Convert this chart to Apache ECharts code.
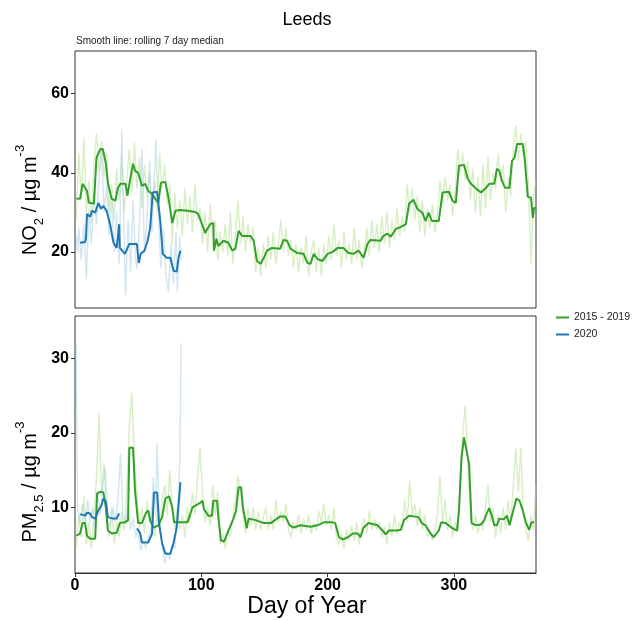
<!DOCTYPE html>
<html>
<head>
<meta charset="utf-8">
<script src="https://cdn.jsdelivr.net/npm/echarts@6/dist/echarts.min.js"></script>
<style>
html,body{margin:0;padding:0;background:#fff;}
#c{width:640px;height:620px;}
</style>
</head>
<body>
<div id="c"></div>
<script>
// ---------- DATA ----------
var xTicks = [0, 100, 200, 300];
var no2Ticks = [20, 40, 60];
var pmTicks = [10, 20, 30];
var legendNames = ['2015 - 2019', '2020'];

// NO2 daily (faint) 2015-2019
var no2Raw1519 = [[1,28],[3,45],[5,33],[7,49],[9,30],[11,38],[13,27],[15,42],[17,50],[19,40],[21,48],[23,39],[25,45],[27,30],[29,37],
[31,28],[33,41],[35,33],[37,44],[39,30],[41,38],[43,46],[45,35],[47,48],[49,36],[51,44],[53,31],[55,42],[57,34],[59,40],
[61,29],[63,38],[65,30],[67,45],[69,36],[71,42],[73,32],[75,37],[77,22],[79,35],[81,26],[83,33],[85,24],[87,36],[89,27],[91,34],[93,25],[95,37],[97,28],[99,31],
[101,22],[103,30],[105,20],[107,32],[109,24],[111,28],[113,18],[115,25],[117,20],[119,27],[121,19],[123,30],[125,17],[127,24],[129,33],
[131,22],[133,29],[135,20],[137,27],[139,22],[141,26],[143,15],[145,21],[147,14],[149,22],[151,16],[153,24],[155,18],[157,25],[159,17],[161,22],
[163,28],[165,20],[167,26],[169,19],[171,23],[173,16],[175,22],[177,15],[179,21],[181,17],[183,24],[185,14],[187,20],[189,23],[191,15],[193,21],[195,14],[197,22],[199,17],
[201,24],[203,18],[205,27],[207,19],[209,23],[211,16],[213,25],[215,18],[217,22],[219,17],[221,26],[223,18],[225,23],[227,16],[229,20],
[231,26],[233,19],[235,28],[237,21],[239,27],[241,20],[243,29],[245,22],[247,30],[249,21],[251,28],[253,23],[255,31],[257,24],[259,29],[261,25],
[263,37],[265,30],[267,36],[269,28],[271,34],[273,25],[275,33],[277,24],[279,31],[281,26],[283,32],[285,25],[287,30],[289,38],[291,32],[293,39],[295,33],[297,37],[299,29],[301,35],
[303,46],[305,40],[307,45],[309,38],[311,43],[313,33],[315,41],[317,30],[319,39],[321,29],[323,42],[325,31],[327,44],[329,33],[331,40],[333,36],
[335,45],[337,38],[339,42],[341,30],[343,39],[345,34],[347,46],[349,52],[351,43],[353,50],[355,44],[357,48],[359,37],[361,17],[363,34],[365,38]];

// NO2 daily (faint) 2020
var no2Raw2020 = [[1,24],[2,20],[3,26],[5,18],[7,27],[9,13],[11,31],[13,22],[15,35],[17,27],[19,38],[21,46],[23,30],[25,37],[27,24],[29,34],[31,20],[33,30],[35,17],[37,51],[39,22],[40,9],[42,28],[44,15],[46,33],[48,18],[49,15.6],[51,27],[53,46],[55,20],[57,28],[59,43],[61,25],[63,40],[64,48.6],[66,30],[68,16],[70,26],[72,14],[74,10],[76,22],[78,12],[80,25],[81,10],[83,24],[84,18]];

// NO2 rolling 7 day median 2015-2019
var no2Smooth1519 = [[1,33.5],[4,33.4],[6,37.2],[9.5,35.4],[11,32.4],[15,32.2],[17,43.8],[20,46],[22,46],[24.5,42.3],[26,37.5],[29,33.4],[32,33],[34,36.2],[36,37.2],[40,37.2],[41.5,34.2],[43.5,38],[46,42.3],[47.5,40.5],[50,40],[53,36.7],[55.5,37.2],[58,35.4],[61,34.7],[63.5,33.4],[66,32.4],[68,37.5],[71.5,37.7],[74,33.7],[77,27.3],[79.5,30.4],[83,30.6],[89,30.4],[95,30.1],[97.5,29.6],[100,27.5],[103,24.8],[107,27],[109.5,27.3],[110,20.3],[112,23.3],[113.5,21.5],[117.5,22.8],[121.5,22.3],[124.5,20.3],[127,20.8],[129.5,25.3],[132.5,24],[139,24],[141.5,22.8],[144,17.7],[147,17],[149.5,18.5],[152,20.3],[156,21],[162.5,20.8],[165,23],[168,22.8],[170.5,20.8],[176,19.7],[181,19.5],[184,17.2],[186.5,17],[189,19.5],[192,18.2],[196,17.7],[200,19.5],[204,20],[208,21],[212.5,21],[216.5,19.7],[220.5,19.5],[224.5,20.3],[228.5,18.5],[231.5,22],[234,23],[242,22.8],[244,24],[247.5,24.6],[250,23.8],[254,25.8],[258,26.3],[262,27],[264.5,32.2],[268,33.2],[271,30.9],[275,29.9],[277.5,27.8],[280,29.9],[282.5,27.8],[288,27.8],[291,35],[296,35.2],[299,32.9],[301.5,32.4],[304,41.8],[308,42],[311,38.5],[313.5,37.2],[317.5,36],[321.5,35],[325.5,36.2],[328,37.2],[332,37.2],[334,41],[336,40.5],[338,38],[340.5,36.2],[344,36.2],[346,43],[348,43.8],[350,47.3],[354.5,47.3],[356,43.8],[358.5,33.9],[361,33.7],[362.5,28.6],[363.5,31.1],[365,31.1]];

// NO2 rolling 7 day median 2020
var no2Smooth2020 = [[4,22.3],[8,22.5],[8.7,23.5],[9.5,29.6],[12,28.9],[13.5,30.4],[16,29.9],[18.5,32.4],[20.5,30.9],[22.5,31.6],[25,30.4],[27.8,27],[29,24.8],[30.5,22.3],[33,21],[34.5,21],[35,27],[35.5,21],[39.5,19.5],[43,22],[49,22],[50.5,17.2],[52,19.5],[55,20.3],[57.5,22.8],[59.5,26],[61.5,35],[65,35.2],[67.5,27.8],[69.5,19.5],[72.5,18.5],[75.5,18.5],[76.5,17.2],[78,15.2],[80.5,15],[82,18.5],[83.5,20.3]];

// PM2.5 daily (faint) 2015-2019
var pmRaw1519 = [[1,4.5],[3,9],[5,6],[7,11.5],[9,5],[11,8],[13,4.5],[15,9],[17,14],[19,22.7],[21,12],[23,16],[25,9],[27,6],[29,10],[31,5],[33,8],[35,6],[37,9.5],[39,7],[41,12],[43,21],[45,25.4],[47,16],[49,12],[51,7],[53,10],[55,6.5],[57,11],[59,8],
[61,10],[63,6],[65,9],[67,7],[69,11],[71,13],[73,9],[75,15],[77,10],[79,7],[81,10],[83,7],[85,9],[87,6],[89,10],[91,8],[93,12],[95,9],[97,14],[99,18],
[101,12],[103,8],[105,10],[107,7.5],[109,13],[111,9],[113,12],[115,5],[117,6.5],[119,4.5],[121,7],[123,6],[125,9],[127,11],[129,14.3],[131,12],[133,9],[135,6.5],[137,10],[139,7.5],
[141,10],[143,7],[145,9.5],[147,7],[149,8.5],[151,10],[153,7],[155,9],[157,7],[159,11],[161,8],[163,9.5],[165,8],[167,10.5],[169,7],[171,6],[173,8],[175,7],[177,9],[179,6.5],
[181,8.5],[183,7],[185,9],[187,6.5],[189,8],[191,7],[193,9.5],[195,8],[197,10.5],[199,7.5],[201,9],[203,7],[205,10],[207,6],[209,5],[211,6.5],[213,4.5],[215,7],[217,5.5],[219,7.5],
[221,5.5],[223,8],[225,5],[227,7.5],[229,8.5],[231,6.5],[233,9.5],[235,7],[237,8.5],[239,7],[241,8],[243,6],[245,7.5],[247,5],[249,8],[251,6],[253,9],[255,6.5],[257,8],[259,7],
[261,11],[263,8],[265,13.6],[267,9],[269,10.5],[271,7.5],[273,10],[275,7],[277,9],[279,6],[281,7],[283,5.5],[285,7],[287,9],[289,14.3],[291,8],[293,11],[295,7],[297,9],[299,6],
[301,8],[303,7],[305,12],[307,20],[309,23.7],[311,16],[313,9],[315,7],[317,9],[319,6.5],[321,8],[323,7],[325,10],[327,13],[329,8],[331,10],[333,6],[335,9],[337,6.5],[339,10],
[341,7],[343,11],[345,8],[347,13],[349,17.9],[351,12],[353,18],[355,9],[357,7],[359,5.5],[361,9],[363,7],[365,13]];

// PM2.5 daily (faint) 2020
var pmRaw2020 = [[1,32],[2,10],[4,8],[6,10.5],[8,7.5],[10,11],[12,8],[14,10],[16,7],[18,12],[20,9],[22,13],[24,15.2],[26,8],[28,7.5],[30,10],[32,8],[34,11],[36,17.2],[38,9],[40,8],[42,10],[44,7],[46,8.5],[48,6],[50,7],[52,4.2],[54,5.5],[56,4.5],[58,6],[60,7],[62,14],[64,9],[65,18.6],[67,7],[69,5],[71,2.5],[73,4],[75,3],[77,5],[79,4.5],[81,9],[83,16],[84,32]];

// PM2.5 rolling 7 day median 2015-2019
var pmSmooth1519 = [[1,6.2],[4,6.5],[6,7.9],[8,7.9],[9.5,6.2],[12,5.8],[16,5.8],[17.5,11.9],[20,12.1],[22.5,12],[24.5,9.9],[26,6.9],[29,6.5],[33,6.6],[35.5,7.9],[39.5,8],[42,8.3],[43,18],[46,18],[47.5,12.3],[50,7.9],[53,7.9],[56,9.2],[58,9.6],[59.5,8.3],[62,7.3],[66,7.6],[69,8.7],[71.5,11.2],[74.5,11.5],[77,10],[78.5,8],[89,8],[93,10],[97,10.4],[99,10.6],[101,10.9],[102,9.8],[105.5,8.9],[108.5,8.9],[109.5,10.9],[112.5,10.9],[113.5,8.7],[115.5,5.6],[118,5.4],[121.5,6.9],[125.5,8.5],[127.5,9.6],[129.5,12.7],[131.5,12.7],[133,10],[136,7.2],[137.5,8.5],[143,8.3],[149.5,7.9],[155,7.9],[160,8.5],[162.5,8.8],[166.5,8.8],[170,7.6],[173,7.3],[178.5,7.6],[186.5,7.4],[192,7.6],[197,8],[204,8],[206,7.9],[209,6],[212,5.7],[216,6],[220,6.5],[224,6.5],[226,6],[228.5,7.3],[232.5,7.9],[239.5,7.6],[243.5,6.9],[246,6.4],[248.5,6.9],[255,6.9],[258,7],[260.5,8.3],[264.5,8.9],[266,8.7],[272,8.7],[274.5,7.9],[277.5,7.6],[281.5,6.5],[284,6],[288,6.9],[290,8],[293.5,7.9],[298,7.3],[302.5,6.9],[304,9.6],[306,16.7],[308,19.4],[309,19.4],[311,16.7],[312,15.9],[314,7.9],[317.5,7.6],[321.5,7.7],[324,8.3],[326,9.2],[328,9.9],[330,8.9],[332,7.6],[334,7.6],[336,8.5],[339.5,8.4],[342,8.9],[344,7.6],[347,9.6],[349.5,11.2],[352,10.9],[354.5,9.6],[357,8],[359.5,7],[361.5,8],[363.5,8]];

// PM2.5 rolling 7 day median 2020 ('-' = no value)
var pmSmooth2020 = [[4,9.1],[8,8.9],[9.5,9.3],[12,9.2],[13.5,8.7],[16,8.5],[18.5,9.6],[21,10.3],[22.5,11.2],[24.5,10.7],[26,8.7],[30,8.5],[33,8.5],[34,8.9],[35,9.2],[41,'-'],[49,7.2],[51.5,6.6],[53,5.3],[58,5.3],[61,6.5],[62.5,12],[65,12],[66.5,7.9],[69,5.2],[71.5,3.8],[75.5,3.8],[78,5.2],[80.5,7.3],[83.5,13.4]];

// ---------- CHART ----------
var FONT = '"Liberation Sans", Arial, sans-serif';
var C_G_DARK = '#33A02C', C_G_LIGHT = '#B2DF8A', C_B_DARK = '#1F78B4', C_B_LIGHT = '#A6CEE3';

function rawSeries(name, data, color, xi) {
  return {type:'line', name:name, data:data, xAxisIndex:xi, yAxisIndex:xi, showSymbol:false, symbol:'none',
    lineStyle:{color:color, width:1.4, opacity:0.5}, itemStyle:{color:color}, silent:true, z:1};
}
function smoothSeries(name, data, color, xi, z) {
  return {type:'line', name:name, data:data, xAxisIndex:xi, yAxisIndex:xi, showSymbol:false, symbol:'none',
    lineStyle:{color:color, width:2}, itemStyle:{color:color}, silent:true, z:z};
}

var yLabel = {fontSize:16, fontWeight:'bold', color:'#000', fontFamily:FONT, margin:6};
var tick = {length:4, lineStyle:{color:'#333', width:1}};
var richAxisTitle = {
  a:{fontSize:20, fontFamily:FONT, color:'#000', lineHeight:32, verticalAlign:'middle'},
  s:{fontSize:13, fontFamily:FONT, color:'#000', lineHeight:13, verticalAlign:'bottom'},
  p:{fontSize:13, fontFamily:FONT, color:'#000', lineHeight:13, verticalAlign:'top'}
};

var option = {
  animation:false,
  backgroundColor:'#fff',
  textStyle:{fontFamily:FONT},
  grid:[
    {left:75, top:51, width:461, height:257, show:true, borderColor:'#333', borderWidth:1, backgroundColor:'transparent'},
    {left:75, top:316, width:461, height:257, show:true, borderColor:'#333', borderWidth:1, backgroundColor:'transparent'}
  ],
  xAxis:[
    {gridIndex:0, type:'value', min:0, max:365, axisLabel:{show:false}, axisTick:{show:false}, axisLine:{show:false}, splitLine:{show:false}},
    {gridIndex:1, type:'value', min:0, max:365,
      axisLabel:{customValues:xTicks, fontSize:16, fontWeight:'bold', color:'#000', fontFamily:FONT, margin:5},
      axisTick:Object.assign({customValues:xTicks}, tick),
      axisLine:{show:true, lineStyle:{color:'#333'}}, splitLine:{show:false}}
  ],
  yAxis:[
    {gridIndex:0, type:'value', min:5.8, max:70.8,
      axisLabel:Object.assign({customValues:no2Ticks}, yLabel),
      axisTick:Object.assign({customValues:no2Ticks}, tick),
      axisLine:{show:false}, splitLine:{show:false}},
    {gridIndex:1, type:'value', min:1.2, max:35.7,
      axisLabel:Object.assign({customValues:pmTicks}, yLabel),
      axisTick:Object.assign({customValues:pmTicks}, tick),
      axisLine:{show:false}, splitLine:{show:false}}
  ],
  legend:{
    data:legendNames, orient:'vertical', left:551, top:307, icon:'rect', itemWidth:13, itemHeight:2, itemGap:6,
    textStyle:{fontSize:10.5, color:'#222', fontFamily:FONT}, selectedMode:false
  },
  graphic:[
    {type:'text', x:307, y:20, style:{text:'Leeds', fontSize:18, fontFamily:FONT, fill:'#000', align:'center', verticalAlign:'middle'}},
    {type:'text', x:76, y:41, style:{text:'Smooth line: rolling 7 day median', fontSize:10, fontFamily:FONT, fill:'#222', align:'left', verticalAlign:'middle'}},
    {type:'text', x:307, y:607, style:{text:'Day of Year', fontSize:23, fontFamily:FONT, fill:'#000', align:'center', verticalAlign:'middle'}},
    {type:'text', x:30, y:200, rotation:Math.PI/2,
      style:{text:'{a|NO}{s|2}{a| / µg m}{p|-3}', rich:richAxisTitle, align:'center', verticalAlign:'middle'}},
    {type:'text', x:30, y:482, rotation:Math.PI/2,
      style:{text:'{a|PM}{s|2.5}{a| / µg m}{p|-3}', rich:richAxisTitle, align:'center', verticalAlign:'middle'}}
  ],
  series:[
    rawSeries('no2raw1519', no2Raw1519, C_G_LIGHT, 0),
    rawSeries('no2raw2020', no2Raw2020, C_B_LIGHT, 0),
    smoothSeries(legendNames[0], no2Smooth1519, C_G_DARK, 0, 3),
    smoothSeries(legendNames[1], no2Smooth2020, C_B_DARK, 0, 4),
    rawSeries('pmraw1519', pmRaw1519, C_G_LIGHT, 1),
    rawSeries('pmraw2020', pmRaw2020, C_B_LIGHT, 1),
    smoothSeries(legendNames[0], pmSmooth1519, C_G_DARK, 1, 3),
    smoothSeries(legendNames[1], pmSmooth2020, C_B_DARK, 1, 4)
  ]
};

var chart = echarts.init(document.getElementById('c'), null, {renderer:'canvas'});
chart.setOption(option);
</script>
</body>
</html>
